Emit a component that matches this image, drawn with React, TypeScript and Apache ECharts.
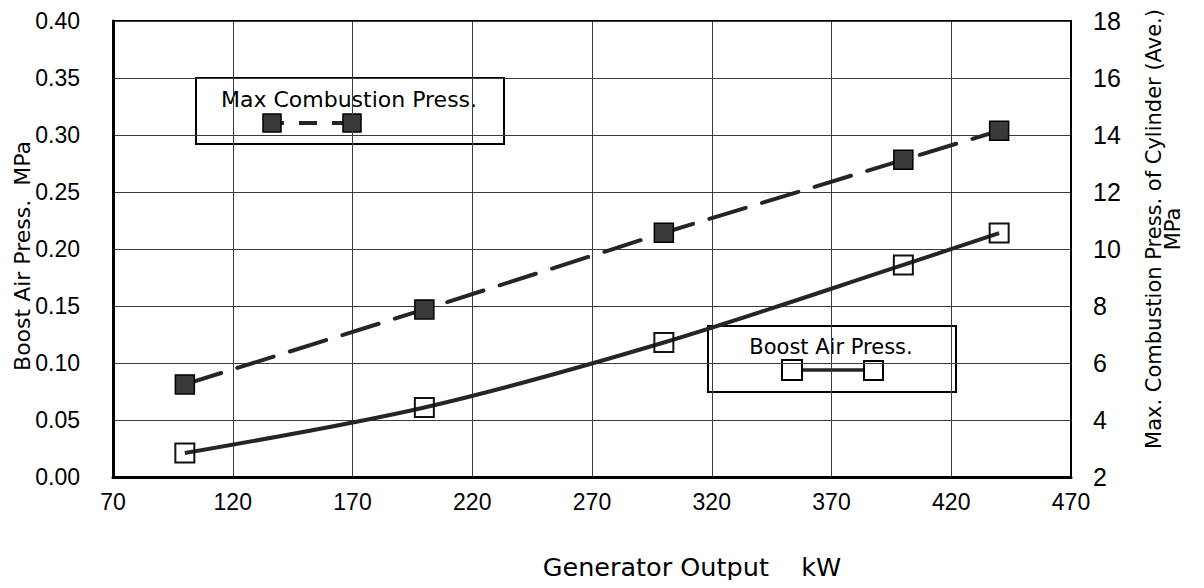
import React, { useEffect, useRef } from "react";
import * as echarts from "echarts";

// ---- data ----
const outputKW = [100, 200, 300, 400, 440];
const boostAirPress = [0.021, 0.061, 0.118, 0.186, 0.214];
const maxCombPress = [5.25, 7.88, 10.57, 13.13, 14.15];
const xTickValues = [70, 120, 170, 220, 270, 320, 370, 420, 470];
const leftTitle = "Boost Air Press.  MPa";
const rightTitle = "Max. Combustion Press. of Cylinder (Ave.)\nMPa";
const xTitle = "Generator Output    kW";
const legendComb = "Max Combustion Press.";
const legendBoost = "Boost Air Press.";

const TICK_FONT = "'Liberation Sans', Arial, sans-serif";
const TEXT_FONT = "'DejaVu Sans', sans-serif";

export default function App() {
  const ref = useRef<HTMLDivElement>(null);
  useEffect(() => {
    if (!ref.current) return;
    const chart = echarts.init(ref.current, null, { renderer: "svg" });
    const gridLine = { show: true, lineStyle: { color: "#3a3a3a", width: 1 } };
    const option: any = {
      animation: false,
      backgroundColor: "#fff",
      grid: {
        left: 113,
        top: 21,
        right: 133,
        bottom: 111,
        show: true,
        borderColor: "#000",
        borderWidth: 2,
        backgroundColor: "transparent",
      },
      xAxis: {
        type: "value",
        min: 70,
        max: 470,
        axisLine: { show: true, onZero: false, lineStyle: { color: "#000", width: 3 } },
        axisTick: { show: false, customValues: xTickValues },
        axisLabel: {
          customValues: xTickValues,
          color: "#000",
          fontFamily: TICK_FONT,
          fontSize: 23,
          margin: 13,
        },
        splitLine: gridLine,
      },
      yAxis: [
        {
          type: "value",
          min: 0,
          max: 0.4,
          interval: 0.05,
          position: "left",
          axisLine: { show: true, lineStyle: { color: "#000", width: 3 } },
          axisTick: { show: false },
          axisLabel: {
            color: "#000",
            fontFamily: TICK_FONT,
            fontSize: 23,
            margin: 33,
            formatter: (v: number) => v.toFixed(2),
          },
          splitLine: gridLine,
        },
        {
          type: "value",
          min: 2,
          max: 18,
          interval: 2,
          position: "right",
          axisLine: { show: true, lineStyle: { color: "#000", width: 2 } },
          axisTick: { show: false },
          axisLabel: {
            color: "#000",
            fontFamily: TICK_FONT,
            fontSize: 25,
            margin: 22,
          },
          splitLine: { show: false },
        },
      ],
      series: [
        {
          name: legendBoost,
          type: "line",
          yAxisIndex: 0,
          data: outputKW.map((x, i) => [x, boostAirPress[i]]),
          smooth: 0.3,
          symbol: "rect",
          symbolSize: 19,
          itemStyle: { color: "rgba(255,255,255,0)", borderColor: "#111", borderWidth: 2 },
          lineStyle: { color: "#252525", width: 4 },
          z: 3,
        },
        {
          name: legendComb,
          type: "line",
          yAxisIndex: 1,
          data: outputKW.map((x, i) => [x, maxCombPress[i]]),
          symbol: "rect",
          symbolSize: 19,
          itemStyle: { color: "#3a3a3a", borderColor: "#000", borderWidth: 1.5 },
          lineStyle: { color: "#252525", width: 4, type: [38, 17], cap: "round" },
          z: 3,
        },
      ],
      graphic: [
        // left axis title
        {
          type: "text",
          x: 22,
          y: 256,
          rotation: Math.PI / 2,
          style: {
            text: leftTitle,
            fontFamily: TEXT_FONT,
            fontSize: 22,
            fill: "#000",
            align: "center",
            verticalAlign: "middle",
          },
        },
        // right axis title
        {
          type: "text",
          x: 1163,
          y: 229,
          rotation: Math.PI / 2,
          style: {
            text: rightTitle,
            fontFamily: TEXT_FONT,
            fontSize: 21,
            lineHeight: 19,
            fill: "#000",
            align: "center",
            verticalAlign: "middle",
          },
        },
        // x axis title
        {
          type: "text",
          x: 692,
          y: 567,
          style: {
            text: xTitle,
            fontFamily: TEXT_FONT,
            fontSize: 25.5,
            fill: "#000",
            align: "center",
            verticalAlign: "middle",
          },
        },
        // legend box: Max Combustion Press.
        {
          type: "group",
          z: 10,
          children: [
            {
              type: "rect",
              shape: { x: 196, y: 78, width: 308, height: 66 },
              style: { fill: "#fff", stroke: "#000", lineWidth: 2 },
            },
            {
              type: "text",
              x: 349,
              y: 99,
              style: {
                text: legendComb,
                fontFamily: TEXT_FONT,
                fontSize: 22,
                fill: "#000",
                align: "center",
                verticalAlign: "middle",
              },
            },
            {
              type: "line",
              shape: { x1: 281, y1: 123, x2: 343, y2: 123 },
              style: { stroke: "#252525", lineWidth: 4, lineDash: [18, 15], lineDashOffset: 15 },
            },
            {
              type: "rect",
              shape: { x: 263, y: 114, width: 18, height: 18 },
              style: { fill: "#3a3a3a", stroke: "#000", lineWidth: 1.5 },
            },
            {
              type: "rect",
              shape: { x: 343, y: 114, width: 18, height: 18 },
              style: { fill: "#3a3a3a", stroke: "#000", lineWidth: 1.5 },
            },
          ],
        },
        // legend box: Boost Air Press.
        {
          type: "group",
          z: 10,
          children: [
            {
              type: "rect",
              shape: { x: 708, y: 326, width: 248, height: 66 },
              style: { fill: "#fff", stroke: "#000", lineWidth: 2 },
            },
            {
              type: "text",
              x: 831,
              y: 347,
              style: {
                text: legendBoost,
                fontFamily: TEXT_FONT,
                fontSize: 21,
                fill: "#000",
                align: "center",
                verticalAlign: "middle",
              },
            },
            {
              type: "line",
              shape: { x1: 802, y1: 370, x2: 864, y2: 370 },
              style: { stroke: "#252525", lineWidth: 3.5 },
            },
            {
              type: "rect",
              shape: { x: 782, y: 360, width: 20, height: 20 },
              style: { fill: "#fff", stroke: "#000", lineWidth: 2 },
            },
            {
              type: "rect",
              shape: { x: 864, y: 361, width: 19, height: 19 },
              style: { fill: "#fff", stroke: "#000", lineWidth: 2 },
            },
          ],
        },
      ],
    };
    chart.setOption(option);
    return () => chart.dispose();
  }, []);
  return <div ref={ref} style={{ width: 1204, height: 588, margin: -8 }} />;
}
